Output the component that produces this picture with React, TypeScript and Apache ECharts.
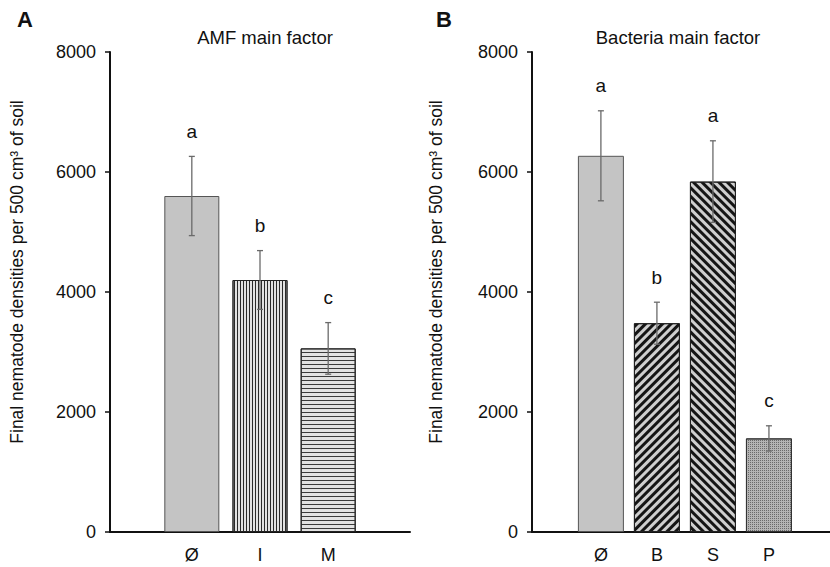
import React, { useEffect, useRef } from "react";
import * as echarts from "echarts";

const amfCats = ["Ø", "I", "M"];
const amfMeans = [5600, 4200, 3060];
const amfErr = [660, 490, 430];
const amfLetters = ["a", "b", "c"];

const bacCats = ["Ø", "B", "S", "P"];
const bacMeans = [6270, 3480, 5840, 1560];
const bacErr = [750, 350, 680, 210];
const bacLetters = ["a", "b", "a", "c"];

const yTicks = [0, 2000, 4000, 6000, 8000];
const yName = "Final nematode densities per 500 cm³ of soil";

const FONT = "'Liberation Sans', Arial, Helvetica, sans-serif";

const amfStyles = [
  { color: "#c4c4c4", borderColor: "#555", borderWidth: 1 },
  {
    color: "#e2e2e2", borderColor: "#222", borderWidth: 1,
    decal: { symbol: "rect", symbolSize: 1, color: "#2a2a2a", dashArrayX: [1, 2], dashArrayY: [4, 0], rotation: 0 },
  },
  {
    color: "#e2e2e2", borderColor: "#222", borderWidth: 1,
    decal: { symbol: "rect", symbolSize: 1, color: "#3a3a3a", dashArrayX: [4, 0], dashArrayY: [1, 3], rotation: 0 },
  },
];

const bacStyles = [
  { color: "#c4c4c4", borderColor: "#555", borderWidth: 1 },
  {
    color: "#cfcfcf", borderColor: "#222", borderWidth: 1,
    decal: { symbol: "rect", symbolSize: 1, color: "#151515", dashArrayX: [2.5, 2.5], dashArrayY: [4, 0], rotation: Math.PI / 4 },
  },
  {
    color: "#cfcfcf", borderColor: "#222", borderWidth: 1,
    decal: { symbol: "rect", symbolSize: 1, color: "#151515", dashArrayX: [2.5, 2.5], dashArrayY: [4, 0], rotation: -Math.PI / 4 },
  },
  {
    color: "#b4b4b4", borderColor: "#333", borderWidth: 1,
    decal: { symbol: "rect", symbolSize: 1, color: "#6a6a6a", dashArrayX: [1, 1], dashArrayY: [1, 1], rotation: 0 },
  },
];

function errSeries(xi: number, means: number[], errs: number[], letters: string[]) {
  return {
    type: "custom",
    xAxisIndex: xi,
    yAxisIndex: xi,
    z: 10,
    clip: false,
    data: means.map((m, i) => [i, m, errs[i]]),
    renderItem: (params: any, api: any) => {
      const x = api.value(0);
      const m = api.value(1);
      const e = api.value(2);
      const top = api.coord([x, m + e]);
      const bot = api.coord([x, m - e]);
      const st = { stroke: "#6a6a6a", lineWidth: 1.3 };
      return {
        type: "group",
        children: [
          { type: "line", shape: { x1: top[0], y1: top[1], x2: bot[0], y2: bot[1] }, style: st },
          { type: "line", shape: { x1: top[0] - 3, y1: top[1], x2: top[0] + 3, y2: top[1] }, style: st },
          { type: "line", shape: { x1: bot[0] - 3, y1: bot[1], x2: bot[0] + 3, y2: bot[1] }, style: st },
          {
            type: "text",
            style: {
              text: letters[params.dataIndex],
              x: top[0],
              y: top[1] - 25,
              align: "center",
              verticalAlign: "middle",
              fontSize: 19,
              fontFamily: FONT,
              fill: "#111",
            },
          },
        ],
      };
    },
  };
}

function xAxisDef(gi: number, min: number, max: number, cats: string[]) {
  return {
    type: "value",
    gridIndex: gi,
    min,
    max,
    splitLine: { show: false },
    axisTick: { show: false },
    axisLine: { show: true, onZero: false, lineStyle: { color: "#111", width: 2 } },
    axisLabel: {
      customValues: cats.map((_, i) => i),
      formatter: (v: number) => cats[Math.round(v)] ?? "",
      fontSize: 18,
      fontFamily: FONT,
      color: "#111",
      margin: 14,
    },
  };
}

function yAxisDef(gi: number) {
  return {
    type: "value",
    gridIndex: gi,
    min: yTicks[0],
    max: yTicks[yTicks.length - 1],
    interval: 2000,
    splitLine: { show: false },
    axisTick: { show: true, length: 5, lineStyle: { color: "#111", width: 1.5 } },
    axisLine: { show: true, onZero: false, lineStyle: { color: "#111", width: 2 } },
    axisLabel: {
      fontSize: 18,
      fontFamily: FONT,
      color: "#111",
      margin: 14,
      formatter: (v: number) => String(v),
    },
  };
}

export default function App() {
  const ref = useRef<HTMLDivElement>(null);
  useEffect(() => {
    if (!ref.current) return;
    const chart = echarts.init(ref.current, null, { renderer: "svg" });
    chart.setOption({
      animation: false,
      backgroundColor: "#ffffff",
      grid: [
        { left: 110, top: 52, width: 300, height: 480 },
        { left: 532, top: 52, width: 298, height: 480 },
      ],
      xAxis: [xAxisDef(0, -1.2, 3.2, amfCats), xAxisDef(1, -1.23, 4.09, bacCats)],
      yAxis: [yAxisDef(0), yAxisDef(1)],
      series: [
        {
          type: "bar",
          xAxisIndex: 0,
          yAxisIndex: 0,
          barWidth: 55,
          data: amfMeans.map((m, i) => ({ value: [i, m], itemStyle: amfStyles[i] })),
        },
        {
          type: "bar",
          xAxisIndex: 1,
          yAxisIndex: 1,
          barWidth: 46,
          data: bacMeans.map((m, i) => ({ value: [i, m], itemStyle: bacStyles[i] })),
        },
        errSeries(0, amfMeans, amfErr, amfLetters),
        errSeries(1, bacMeans, bacErr, bacLetters),
      ],
      graphic: [
        { type: "text", x: 25, y: 19, style: { text: "A", align: "center", verticalAlign: "middle", fontSize: 22, fontWeight: "bold", fontFamily: FONT, fill: "#111" } },
        { type: "text", x: 444, y: 19, style: { text: "B", align: "center", verticalAlign: "middle", fontSize: 22, fontWeight: "bold", fontFamily: FONT, fill: "#111" } },
        { type: "text", x: 265, y: 37, style: { text: "AMF main factor", align: "center", verticalAlign: "middle", fontSize: 18.5, fontFamily: FONT, fill: "#111" } },
        { type: "text", x: 678, y: 37, style: { text: "Bacteria main factor", align: "center", verticalAlign: "middle", fontSize: 18.5, fontFamily: FONT, fill: "#111" } },
        { type: "text", x: 17, y: 272, rotation: Math.PI / 2, style: { text: yName, align: "center", verticalAlign: "middle", fontSize: 17.5, fontFamily: FONT, fill: "#111" } },
        { type: "text", x: 436, y: 272, rotation: Math.PI / 2, style: { text: yName, align: "center", verticalAlign: "middle", fontSize: 17.5, fontFamily: FONT, fill: "#111" } },
      ],
    });
    return () => chart.dispose();
  }, []);
  return <div ref={ref} style={{ width: 830, height: 567, position: "absolute", left: 0, top: 0 }} />;
}
